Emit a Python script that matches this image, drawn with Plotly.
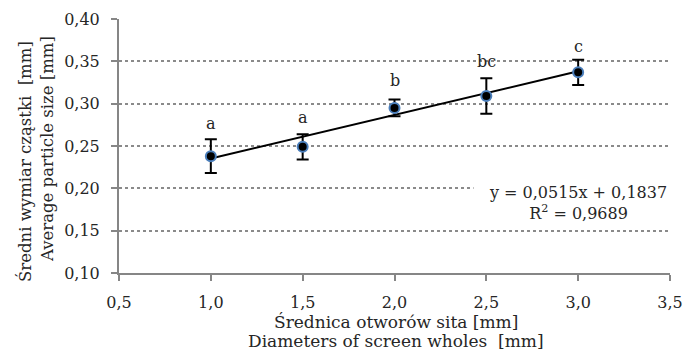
import plotly.graph_objects as go

# Data
diam = [1.0, 1.5, 2.0, 2.5, 3.0]
size_mean = [0.238, 0.249, 0.295, 0.309, 0.337]
size_err = [0.020, 0.015, 0.010, 0.021, 0.015]
groups = ["a", "a", "b", "bc", "c"]
group_y = [0.276, 0.284, 0.327, 0.350, 0.367]
trend_x = [1.0, 3.0]
trend_y = [0.2352, 0.3382]
equation = "y = 0,0515x + 0,1837<br>R<sup>2</sup> = 0,9689"
x_ticks = [0.5, 1.0, 1.5, 2.0, 2.5, 3.0, 3.5]
y_ticks = [0.10, 0.15, 0.20, 0.25, 0.30, 0.35, 0.40]

FONT = "DejaVu Serif"
TXT = "#262626"
AX = "#868686"

fig = go.Figure()
fig.add_trace(go.Scatter(
    x=trend_x, y=trend_y, mode="lines",
    line=dict(color="black", width=2), hoverinfo="skip", showlegend=False))
fig.add_trace(go.Scatter(
    x=diam, y=size_mean, mode="markers",
    marker=dict(size=10, color="black", line=dict(color="#4a7ebb", width=2)),
    error_y=dict(type="data", array=size_err, visible=True, color="black",
                 thickness=2, width=6),
    showlegend=False))

annotations = []
for x, y, g in zip(diam, group_y, groups):
    annotations.append(dict(x=x, y=y, xref="x", yref="y", text=g, showarrow=False,
                            font=dict(family=FONT, size=16, color=TXT),
                            xanchor="center", yanchor="middle"))
annotations.append(dict(x=3.0, y=0.1827, xref="x", yref="y", text=equation,
                        showarrow=False, align="center", bgcolor="white",
                        width=206, font=dict(family=FONT, size=16, color=TXT),
                        xanchor="center", yanchor="middle"))
# axis titles (two lines each)
annotations += [
    dict(x=-0.1706, y=0.441, xref="paper", yref="paper", text="Średni wymiar cząstki  [mm]",
         textangle=-90, showarrow=False, font=dict(family=FONT, size=16.5, color=TXT),
         xanchor="center", yanchor="middle"),
    dict(x=-0.1307, y=0.488, xref="paper", yref="paper", text="Average particle size [mm]",
         textangle=-90, showarrow=False, font=dict(family=FONT, size=16.5, color=TXT),
         xanchor="center", yanchor="middle"),
    dict(x=0.503, y=-0.193, xref="paper", yref="paper", text="Średnica otworów sita [mm]",
         showarrow=False, font=dict(family=FONT, size=17, color=TXT),
         xanchor="center", yanchor="middle"),
    dict(x=0.503, y=-0.268, xref="paper", yref="paper", text="Diameters of screen wholes  [mm]",
         showarrow=False, font=dict(family=FONT, size=17, color=TXT),
         xanchor="center", yanchor="middle"),
]

fig.update_layout(
    width=686, height=353,
    margin=dict(l=119, r=16, t=19, b=80, autoexpand=False),
    paper_bgcolor="white", plot_bgcolor="white",
    separators=", ",
    font=dict(family=FONT, size=16, color=TXT),
    annotations=annotations,
    xaxis=dict(range=[0.5, 3.5], tickvals=x_ticks, tickformat=".1f",
               showgrid=False, zeroline=False, showline=True, linecolor=AX, linewidth=2,
               ticks="outside", ticklen=6, tickcolor=AX, tickwidth=2, automargin=False,
               ticklabelstandoff=8, tickfont=dict(family=FONT, size=16, color=TXT)),
    yaxis=dict(range=[0.10, 0.40], tickvals=y_ticks, tickformat=".2f",
               showgrid=True, gridcolor="#8a8a8a", griddash="dot", gridwidth=1.5,
               zeroline=False, showline=True, linecolor=AX, linewidth=2,
               ticks="outside", ticklen=6, tickcolor=AX, tickwidth=2, automargin=False,
               ticklabelstandoff=8, tickfont=dict(family=FONT, size=16, color=TXT)),
)

fig.write_html("out.html")
